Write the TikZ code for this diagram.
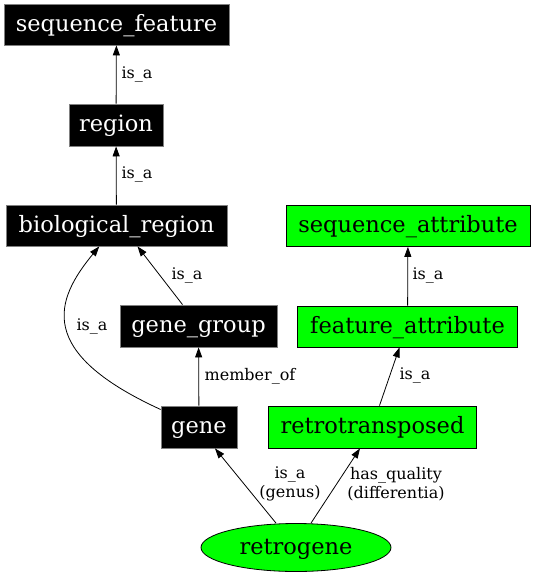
\documentclass[tikz,border=0pt]{standalone}
\usepackage{fontspec}
\setmainfont{DejaVu Serif}
\usetikzlibrary{arrows.meta,calc,shapes.geometric}
\begin{document}
\begin{tikzpicture}[x=1pt,y=-1pt,
  base/.style={draw=black, line width=0.8pt, inner sep=0pt, font=\fontsize{22.5}{26}\selectfont, text height=16pt, text depth=3pt},
  blk/.style={base, fill=black, text=white, draw=gray},
  grn/.style={base, fill=green},
  lbl/.style={font=\fontsize{16}{19}\selectfont, inner sep=0pt, align=center},
  arr/.style={-{Triangle[length=10pt,width=7pt]}, line width=0.8pt}]
\useasboundingbox (0,0) rectangle (535,576);
\node[blk, minimum width=225pt, minimum height=41pt] (sf) at (116.5,24.5) {sequence\_feature};
\node[blk, minimum width=94pt, minimum height=42pt] (region) at (116,125) {region};
\node[blk, minimum width=221pt, minimum height=41pt] (bio) at (116.5,225.5) {biological\_region};
\node[blk, minimum width=157pt, minimum height=42pt] (gg) at (198.5,326) {gene\_group};
\node[blk, minimum width=76pt, minimum height=42pt] (gene) at (199,427) {gene};
\node[grn, minimum width=244pt, minimum height=41pt] (sa) at (408,226) {sequence\_attribute};
\node[grn, minimum width=220pt, minimum height=41pt] (fa) at (407.5,326.5) {feature\_attribute};
\node[grn, minimum width=208pt, minimum height=42pt] (rt) at (372.5,427) {retrotransposed};
\node[grn, ellipse, minimum width=190pt, minimum height=48pt] (rg) at (296,547.5) {retrogene};

\draw[arr] (region) -- (sf);
\draw[arr] (bio) -- (region);
\draw[arr] ([xshift=-16pt]gg.north) -- ([xshift=21pt]bio.south);
\draw[arr] (gene) .. controls (35,352) and (55,300) .. (bio);
\draw[arr] (gene) -- (gg);
\draw[arr] (fa) -- (sa);
\draw[arr] ([xshift=7pt]rt.north) -- ([xshift=-8pt]fa.south);
\draw[arr] ([xshift=-20pt]rg.north) -- ([xshift=16pt]gene.south);
\draw[arr] ([xshift=15pt]rg.north) -- ([xshift=-12.5pt]rt.south);

\node[lbl] (l1) at (137,74) {is\_a};
\node[lbl] (l2) at (137,174) {is\_a};
\node[lbl] (l3) at (187,275) {is\_a};
\node[lbl] (l4) at (92,326) {is\_a};
\node[lbl] (l5) at (250,376) {member\_of};
\node[lbl] (l6) at (428,275) {is\_a};
\node[lbl] (l7) at (415,375) {is\_a};
\node[lbl] (l8) at (290,484) {is\_a\\(genus)};
\node[lbl] (l9) at (396,484) {has\_quality\\(differentia)};
\end{tikzpicture}
\end{document}
